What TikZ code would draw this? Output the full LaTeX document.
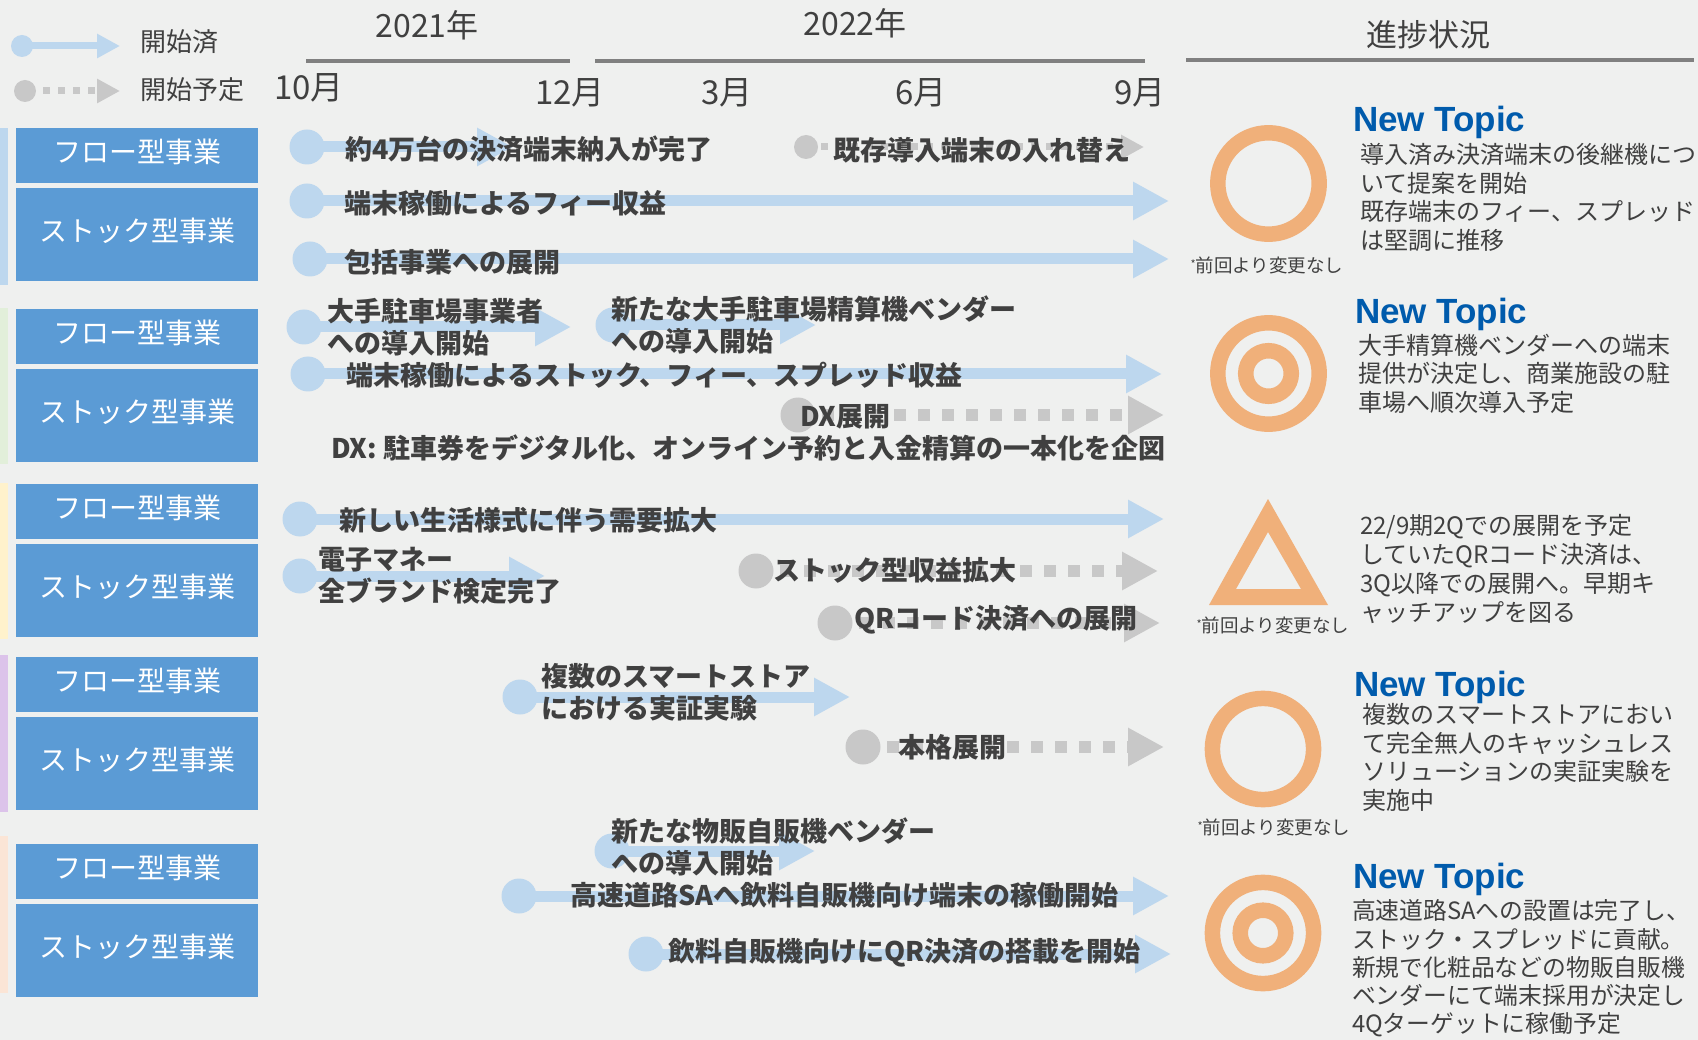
\documentclass[tikz,border=0pt]{standalone}
\usepackage{fontspec}
\setmainfont{Noto Sans CJK JP}
\newfontfamily\topicfont{Liberation Sans}
\usetikzlibrary{arrows.meta}
\definecolor{bgc}{HTML}{EFF0EF}
\definecolor{abl}{HTML}{BDD7EE}
\definecolor{agr}{HTML}{C8C8C8}
\definecolor{boxb}{HTML}{5B9BD5}
\definecolor{txt}{HTML}{404040}
\definecolor{hline}{HTML}{808080}
\definecolor{topicb}{HTML}{005BAC}
\definecolor{ora}{HTML}{F0B07A}
\definecolor{gA}{HTML}{BDD7EE}
\definecolor{gB}{HTML}{E2EFDA}
\definecolor{gC}{HTML}{FFF2CC}
\definecolor{gD}{HTML}{DCC3EA}
\definecolor{gE}{HTML}{FBE5D6}
\tikzset{
  every node/.style={inner sep=0pt, outer sep=0pt},
  bluedot/.style={circle, fill=abl, minimum size=35pt},
  graydot/.style={circle, fill=agr, minimum size=35pt},
  bluebar/.style={draw=abl, line width=11pt, -{Triangle[length=36pt,width=36pt]}},
  graybar/.style={draw=agr, line width=12pt, dash pattern=on 12pt off 12pt, -{Triangle[length=36pt,width=36pt]}},
  bartext/.style={anchor=west, text=txt, font=\fontsize{27}{32}\selectfont\bfseries, align=left},
  hdrtext/.style={text=txt, font=\fontsize{32}{36}\selectfont},
  monthtext/.style={text=txt, font=\fontsize{33}{36}\selectfont},
  hdrline/.style={draw=hline, line width=4pt},
  flowbox/.style={fill=boxb, minimum width=242pt, minimum height=55pt, text=white, text height=24pt, text depth=10pt, font=\fontsize{28}{30}\selectfont},
  stockbox/.style={fill=boxb, minimum width=242pt, minimum height=93pt, text=white, text height=24pt, text depth=10pt, font=\fontsize{28}{30}\selectfont},
  topic/.style={anchor=west, text=topicb, font=\fontsize{35}{37}\selectfont\topicfont\bfseries},
  desc/.style={anchor=west, text=txt, align=left, font=\fontsize{24}{28.5}\selectfont},
  note/.style={text=txt, font=\fontsize{18.5}{20}\selectfont},
  ringnode/.style={circle, draw=ora, line width=15.5pt},
}
\newcommand{\nochg}{\raisebox{4pt}{\fontsize{11}{11}\selectfont *}前回より変更なし}
\begin{document}
\begin{tikzpicture}[x=1pt,y=-1pt]
\fill[bgc] (0,0) rectangle (1698,1040);
\useasboundingbox (0,0) rectangle (1698,1040);

% ---------- legend ----------
\node[bluedot, minimum size=22pt] (lg1s) at (22,46) {};
\coordinate (lg1e) at (120,46);
\draw[draw=abl, line width=7pt, -{Triangle[length=23pt,width=23pt]}] (lg1s.center) -- (lg1e);
\node[anchor=west, text=txt, font=\fontsize{26}{28}\selectfont] (lg1t) at (140,42) {開始済};
\node[graydot, minimum size=22pt] (lg2s) at (25,91) {};
\coordinate (lg2e) at (120,91);
\draw[draw=agr, line width=7pt, dash pattern=on 7pt off 8pt, dash phase=-3pt, -{Triangle[length=23pt,width=23pt]}] (lg2s.center) -- (lg2e);
\node[anchor=west, text=txt, font=\fontsize{26}{28}\selectfont] (lg2t) at (140,90) {開始予定};

% ---------- header ----------
\node[hdrtext] (y21) at (427,25) {2021年};
\draw[hdrline] (306,61) -- (570,61);
\node[hdrtext] (y22) at (855,23) {2022年};
\draw[hdrline] (595,61) -- (1145,61);
\node[text=txt, font=\fontsize{31}{34}\selectfont] (prog) at (1428,35) {進捗状況};
\draw[hdrline] (1186,60) -- (1694,60);
\node[monthtext] (m10) at (309,88) {10月};
\node[monthtext] (m12) at (570,93) {12月};
\node[monthtext] (m3) at (727,93) {3月};
\node[monthtext] (m6) at (921,93) {6月};
\node[monthtext] (m9) at (1140,93) {9月};

% ---------- left column ----------
\fill[gA] (0,128) rectangle (8,285);
\fill[gB] (0,308) rectangle (8,464);
\fill[gC] (0,483) rectangle (8,639);
\fill[gD] (0,655) rectangle (8,812);
\fill[gE] (0,836) rectangle (8,993);
\node[flowbox] (f1) at (137,155.5) {フロー型事業};
\node[stockbox] (s1) at (137,234.5) {ストック型事業};
\node[flowbox] (f2) at (137,336.5) {フロー型事業};
\node[stockbox] (s2) at (137,415.5) {ストック型事業};
\node[flowbox] (f3) at (137,511.5) {フロー型事業};
\node[stockbox] (s3) at (137,590.5) {ストック型事業};
\node[flowbox] (f4) at (137,684.5) {フロー型事業};
\node[stockbox] (s4) at (137,763.5) {ストック型事業};
\node[flowbox] (f5) at (137,871.5) {フロー型事業};
\node[stockbox] (s5) at (137,950.5) {ストック型事業};

% ---------- group 1 ----------
\node[bluedot] (a1s) at (307,147) {};
\coordinate (a1e) at (513,147);
\draw[bluebar] (a1s.center) -- (a1e);
\node[graydot, minimum size=24pt] (a2s) at (806,147) {};
\coordinate (a2e) at (1144,147);
\draw[draw=agr, line width=7pt, dash pattern=on 7pt off 8pt, -{Triangle[length=23pt,width=23pt]}] (a2s.center) -- (a2e);
\node[bluedot] (a3s) at (307,201) {};
\coordinate (a3e) at (1169,201);
\draw[bluebar] (a3s.center) -- (a3e);
\node[bluedot] (a4s) at (310,259) {};
\coordinate (a4e) at (1169,259);
\draw[bluebar] (a4s.center) -- (a4e);
\node[bartext] (a1t) at (345,149) {約4万台の決済端末納入が完了};
\node[bartext] (a2t) at (833,150) {既存導入端末の入れ替え};
\node[bartext] (a3t) at (344,203) {端末稼働によるフィー収益};
\node[bartext] (a4t) at (344,262) {包括事業への展開};

% ---------- group 2 ----------
\node[bluedot] (b1s) at (304,327) {};
\coordinate (b1e) at (571,327);
\draw[bluebar] (b1s.center) -- (b1e);
\node[bluedot] (b2s) at (613,325) {};
\coordinate (b2e) at (816,325);
\draw[bluebar] (b2s.center) -- (b2e);
\node[bluedot] (b3s) at (308,374) {};
\coordinate (b3e) at (1162,374);
\draw[bluebar] (b3s.center) -- (b3e);
\node[graydot] (b4s) at (798,415) {};
\coordinate (b4e) at (1164,415);
\draw[graybar] (b4s.center) -- (b4e);
\node[bartext] (b1t) at (327,327) {大手駐車場事業者\\への導入開始};
\node[bartext] (b2t) at (611,325) {新たな大手駐車場精算機ベンダー\\への導入開始};
\node[bartext] (b3t) at (346,375) {端末稼働によるストック、フィー、スプレッド収益};
\node[bartext] (b4t) at (800,417) {DX展開};
\node[bartext] (b5t) at (331,448) {DX: 駐車券をデジタル化、オンライン予約と入金精算の一本化を企図};

% ---------- group 3 ----------
\node[bluedot] (c1s) at (300,519) {};
\coordinate (c1e) at (1164,519);
\draw[bluebar] (c1s.center) -- (c1e);
\node[bluedot] (c2s) at (300,576) {};
\coordinate (c2e) at (545,576);
\draw[bluebar] (c2s.center) -- (c2e);
\node[graydot] (c3s) at (756,571) {};
\coordinate (c3e) at (1158,571);
\draw[graybar] (c3s.center) -- (c3e);
\node[graydot] (c4s) at (835,623) {};
\coordinate (c4e) at (1160,623);
\draw[graybar] (c4s.center) -- (c4e);
\node[bartext] (c1t) at (339,520) {新しい生活様式に伴う需要拡大};
\node[bartext] (c2t) at (318,576) {電子マネー\\全ブランド検定完了};
\node[bartext] (c3t) at (773,570) {ストック型収益拡大};
\node[bartext] (c4t) at (854,620) {QRコード決済への展開};

% ---------- group 4 ----------
\node[bluedot] (d1s) at (520,697) {};
\coordinate (d1e) at (850,697);
\draw[bluebar] (d1s.center) -- (d1e);
\node[graydot] (d2s) at (863,747) {};
\coordinate (d2e) at (1164,747);
\draw[graybar] (d2s.center) -- (d2e);
\node[bartext] (d1t) at (541,692) {複数のスマートストア\\における実証実験};
\node[bartext] (d2t) at (898,747) {本格展開};

% ---------- group 5 ----------
\node[bluedot] (e1s) at (612,851) {};
\coordinate (e1e) at (815,851);
\draw[bluebar] (e1s.center) -- (e1e);
\node[bluedot] (e2s) at (519,896) {};
\coordinate (e2e) at (1169,896);
\draw[bluebar] (e2s.center) -- (e2e);
\node[bluedot] (e3s) at (646,954) {};
\coordinate (e3e) at (1171,954);
\draw[bluebar] (e3s.center) -- (e3e);
\node[bartext] (e1t) at (611,847) {新たな物販自販機ベンダー\\への導入開始};
\node[bartext] (e2t) at (570,895) {高速道路SAへ飲料自販機向け端末の稼働開始};
\node[bartext] (e3t) at (668,953) {飲料自販機向けにQR決済の搭載を開始};

% ---------- right: progress ----------
\node[topic] (t1) at (1353,122) {New Topic};
\node[ringnode, minimum size=101.4pt] (r1) at (1268.5,183.5) {};
\node[desc] (d1) at (1360,197.5) {導入済み決済端末の後継機につ\\いて提案を開始\\既存端末のフィー、スプレッド\\は堅調に推移};
\node[note] (n1) at (1267,265) {\nochg};

\node[topic] (t2) at (1355,314) {New Topic};
\node[ringnode, minimum size=101.4pt] (r2o) at (1268.5,373.5) {};
\node[ringnode, minimum size=45.6pt] (r2i) at (1268.5,373.5) {};
\node[desc] (d2) at (1358,373.5) {大手精算機ベンダーへの端末\\提供が決定し、商業施設の駐\\車場へ順次導入予定};

\fill[ora, even odd rule] (1268,499) -- (1328,605) -- (1209,605) -- cycle
   (1268,532) -- (1301,589) -- (1236,589) -- cycle;
\node[note] (n3) at (1273,625) {\nochg};
\node[desc, font=\fontsize{24}{29}\selectfont] (d3) at (1360,568.5) {22/9期2Qでの展開を予定\\していたQRコード決済は、\\3Q以降での展開へ。早期キ\\ャッチアップを図る};

\node[topic] (t4) at (1354,687) {New Topic};
\node[ringnode, minimum size=101.2pt] (r4) at (1263,749) {};
\node[note] (n4) at (1274,827) {\nochg};
\node[desc] (d4) at (1362,757.5) {複数のスマートストアにおい\\て完全無人のキャッシュレス\\ソリューションの実証実験を\\実施中};

\node[topic] (t5) at (1353,879) {New Topic};
\node[ringnode, minimum size=101.2pt] (r5o) at (1263,933) {};
\node[ringnode, minimum size=45.6pt] (r5i) at (1263,933) {};
\node[desc, font=\fontsize{23.8}{28.3}\selectfont] (d5) at (1352,968.5) {高速道路SAへの設置は完了し、\\ストック・スプレッドに貢献。\\新規で化粧品などの物販自販機\\ベンダーにて端末採用が決定し\\4Qターゲットに稼働予定};
\end{tikzpicture}
\end{document}
